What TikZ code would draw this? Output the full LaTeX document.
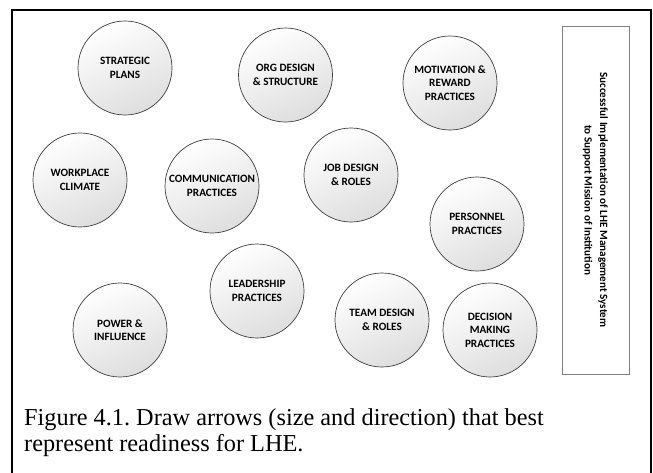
\documentclass[tikz,border=0pt]{standalone}
\usepackage{fontspec}
\setmainfont{Liberation Serif}
\newfontfamily\calfont{Carlito}
\frenchspacing
\begin{document}
\begin{tikzpicture}[x=1pt,y=-1pt,
  factor/.style={circle, draw=black!75, line width=0.7pt, minimum size=94pt, inner sep=0pt,
    top color=white, bottom color=black!13, shading angle=25,
    align=center, font=\calfont\bfseries\fontsize{11.2}{13.5}\selectfont},
  goalbox/.style={draw=black!50, line width=0.8pt, minimum width=67pt, minimum height=348pt, inner sep=0pt},
  goaltxt/.style={rotate=-90, align=center, font=\calfont\bfseries\fontsize{11.1}{15.5}\selectfont},
  captxt/.style={anchor=base west, inner sep=0pt, font=\fontsize{24.3}{27}\selectfont}]
\useasboundingbox (0,0) rectangle (653,472);
\draw[line width=2pt] (12,10) rectangle (651,480);
\node[factor] (sp) at (125,68) {STRATEGIC\\PLANS};
\node[factor] (org) at (285.5,75) {ORG DESIGN\\\& STRUCTURE};
\node[factor] (mot) at (450,83) {MOTIVATION \&\\REWARD\\PRACTICES};
\node[factor] (wc) at (80,180) {WORKPLACE\\CLIMATE};
\node[factor] (com) at (212,186) {COMMUNICATION\\PRACTICES};
\node[factor] (job) at (351,175) {JOB DESIGN\\\& ROLES};
\node[factor] (per) at (477,224) {PERSONNEL\\PRACTICES};
\node[factor] (pow) at (120,330) {POWER \&\\INFLUENCE};
\node[factor] (lead) at (257,291) {LEADERSHIP\\PRACTICES};
\node[factor] (team) at (382,320) {TEAM DESIGN\\\& ROLES};
\node[factor] (dec) at (490,330) {DECISION\\MAKING\\PRACTICES};
\node[goalbox] (goal) at (595.5,200) {};
\node[goaltxt] (goalt) at (goal.center) {Successful Implementation of LHE Management System\\to Support Mission of Institution};
\node[captxt] (cap1) at (24,425) {Figure 4.1. Draw arrows (size and direction) that best};
\node[captxt] (cap2) at (24,451) {represent readiness for LHE.};
\end{tikzpicture}
\end{document}
